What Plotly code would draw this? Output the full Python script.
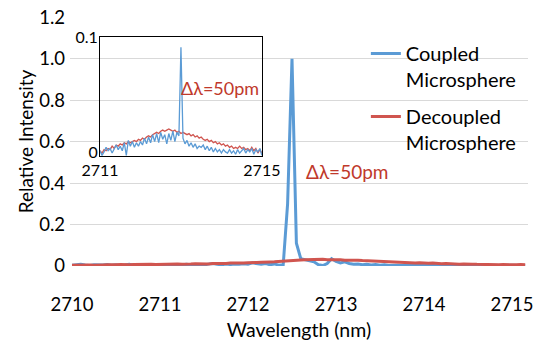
import numpy as np
import plotly.graph_objects as go

# ---------------- data ----------------
main_wavelength = [round(2710.0 + 0.05 * i, 2) for i in range(104)]
coupled_main = [
    0.004, 0.006, 0.008, 0.005, 0.003, 0.006, 0.004, 0.005, 0.007, 0.004,
    0.006, 0.003, 0.005, 0.008, 0.004, 0.006, 0.005, 0.003, 0.006, 0.004,
    0.005, 0.007, 0.004, 0.006, 0.003, 0.005, 0.008, 0.006, 0.004, 0.007,
    0.005, 0.009, 0.012, 0.008, 0.006, 0.009, 0.007, 0.010, 0.008, 0.011,
    0.009, 0.015, 0.010, 0.008, 0.012, 0.006, 0.010, 0.004, 0.006, 0.30,
    1.0, 0.11, 0.035, 0.030, 0.028, 0.020, 0.006, 0.002, 0.012, 0.035,
    0.022, 0.015, 0.020, 0.012, 0.008, 0.010, 0.006, 0.008, 0.005, 0.007,
    0.004, 0.006, 0.003, 0.005, 0.004, 0.003, 0.006, 0.004, 0.003, 0.005,
    0.003, 0.004, 0.002, 0.005, 0.003, 0.002, 0.004, 0.003, 0.005, 0.002,
    0.004, 0.003, 0.006, 0.004, 0.002, 0.004, 0.003, 0.005, 0.003, 0.004,
    0.003, 0.005, 0.004, 0.003,
]
decoupled_main = [
    0.004, 0.005, 0.004, 0.006, 0.005, 0.004, 0.006, 0.005, 0.006, 0.005,
    0.006, 0.007, 0.005, 0.006, 0.007, 0.008, 0.006, 0.007, 0.008, 0.007,
    0.008, 0.007, 0.009, 0.008, 0.010, 0.009, 0.008, 0.010, 0.011, 0.010,
    0.011, 0.010, 0.012, 0.011, 0.013, 0.012, 0.014, 0.013, 0.015, 0.014,
    0.016, 0.015, 0.017, 0.018, 0.017, 0.019, 0.020, 0.022, 0.024, 0.025,
    0.027, 0.028, 0.029, 0.030, 0.031, 0.030, 0.031, 0.032, 0.030, 0.031,
    0.029, 0.030, 0.028, 0.029, 0.027, 0.028, 0.026, 0.025, 0.024, 0.023,
    0.022, 0.020, 0.021, 0.019, 0.018, 0.017, 0.018, 0.016, 0.015, 0.016,
    0.014, 0.013, 0.014, 0.012, 0.011, 0.012, 0.010, 0.011, 0.009, 0.010,
    0.008, 0.009, 0.008, 0.007, 0.008, 0.006, 0.007, 0.006, 0.007, 0.006,
    0.007, 0.006, 0.007, 0.006,
]

inset_wavelength = [round(2711.0 + 0.05 * i, 2) for i in range(81)]
coupled_inset = [
    0.001, -0.003, 0.000, 0.004, 0.001, 0.003, -0.001, 0.002, 0.006, 0.002,
    0.005, 0.001, 0.008, -0.003, 0.010, 0.005, 0.009, 0.004, 0.008, 0.005,
    0.009, 0.006, 0.012, 0.007, 0.013, 0.008, 0.015, 0.009, 0.016, 0.008,
    0.017, 0.011, 0.015, 0.007, 0.016, 0.010, 0.018, 0.009, 0.017, 0.014,
    0.091, 0.012, 0.007, 0.010, 0.005, 0.008, 0.004, 0.007, 0.003, 0.005,
    0.004, 0.006, 0.002, 0.005, 0.001, 0.004, 0.000, 0.003, 0.000, 0.002,
    -0.001, 0.002, 0.000, -0.001, 0.002, -0.001, 0.001, -0.002, 0.002, -0.001,
    0.001, 0.003, -0.001, 0.002, 0.000, 0.003, -0.002, 0.002, 0.000, 0.003,
    -0.003,
]
decoupled_inset = [
    0.001, -0.001, 0.002, 0.001, 0.003, 0.002, 0.005, 0.003, 0.006, 0.005,
    0.007, 0.006, 0.008, 0.007, 0.009, 0.008, 0.009, 0.010, 0.009, 0.011,
    0.010, 0.012, 0.011, 0.013, 0.014, 0.013, 0.015, 0.016, 0.017, 0.016,
    0.018, 0.019, 0.018, 0.019, 0.020, 0.019, 0.018, 0.019, 0.017, 0.018,
    0.016, 0.017, 0.016, 0.015, 0.016, 0.014, 0.015, 0.013, 0.014, 0.012,
    0.013, 0.011, 0.010, 0.011, 0.009, 0.010, 0.008, 0.009, 0.007, 0.008,
    0.006, 0.007, 0.005, 0.006, 0.004, 0.005, 0.003, 0.004, 0.003, 0.005,
    0.003, 0.004, 0.002, 0.003, 0.001, 0.004, 0.001, 0.003, -0.001, 0.002,
    -0.001,
]

main_xticks = [2710, 2711, 2712, 2713, 2714, 2715]
main_yticks = [0, 0.2, 0.4, 0.6, 0.8, 1.0, 1.2]
main_yticklabels = ["0", "0.2", "0.4", "0.6", "0.8", "1.0", "1.2"]
inset_xticks = [2711, 2715]
inset_yticks = [0, 0.1]
inset_yticklabels = ["0", "0.1"]
series_names = ["Coupled<br>Microsphere", "Decoupled<br>Microsphere"]
linewidth_label = "Δλ=50pm"

BLUE = "#5B9BD5"
RED = "#D0554F"
DARKRED = "#C0392B"
FONT = "Lato"

fig = go.Figure()
fig.add_trace(go.Scatter(x=main_wavelength, y=coupled_main, mode="lines",
                         name=series_names[0], line=dict(color=BLUE, width=3),
                         legendgroup="a"))
fig.add_trace(go.Scatter(x=main_wavelength, y=decoupled_main, mode="lines",
                         name=series_names[1], line=dict(color=RED, width=3),
                         legendgroup="b"))
fig.add_trace(go.Scatter(x=inset_wavelength, y=decoupled_inset, mode="lines",
                         xaxis="x2", yaxis="y2", showlegend=False,
                         line=dict(color=RED, width=1.3)))
fig.add_trace(go.Scatter(x=inset_wavelength, y=coupled_inset, mode="lines",
                         xaxis="x2", yaxis="y2", showlegend=False,
                         line=dict(color=BLUE, width=1.3)))

# page body has an 8px default margin, so the figure is sized to fit the window
fig.update_layout(
    width=537, height=333,
    margin=dict(l=62, r=17, t=9, b=75),
    paper_bgcolor="white", plot_bgcolor="rgba(0,0,0,0)",
    font=dict(family=FONT, size=19, color="black"),
    showlegend=True,
    legend=dict(x=0.646, y=0.932, xanchor="left", yanchor="top",
                bgcolor="rgba(0,0,0,0)", valign="top", tracegroupgap=8,
                font=dict(size=20)),
    xaxis=dict(range=[2709.977, 2715.182], tickvals=main_xticks,
               showgrid=False, zeroline=False, showline=False, automargin=False,
               ticks="", ticklabelstandoff=25, tickfont=dict(size=18.5),
               title=dict(text="Wavelength (nm)", standoff=10, font=dict(size=19.5))),
    yaxis=dict(range=[0, 1.2015], tickvals=main_yticks, ticktext=main_yticklabels,
               showgrid=True, gridcolor="#D9D9D9", gridwidth=1, zeroline=False,
               showline=False, ticks="", ticklabelstandoff=4, automargin=False,
               ticklabeloverflow="allow", tickfont=dict(size=18.5),
               title=dict(text="Relative Intensity", standoff=0, font=dict(size=19))),
    xaxis2=dict(domain=[0.0655, 0.419], anchor="y2", range=[2711, 2715],
                tickvals=inset_xticks, showgrid=False, zeroline=False,
                showline=True, mirror=True, linecolor="black", linewidth=1,
                automargin=False, ticklabeloverflow="allow",
                ticks="", ticklabelstandoff=0, tickfont=dict(size=16)),
    yaxis2=dict(domain=[0.442, 0.920], anchor="x2", range=[-0.0035, 0.1],
                tickvals=inset_yticks, ticktext=inset_yticklabels,
                showgrid=False, zeroline=False, automargin=False,
                ticklabeloverflow="allow",
                showline=True, mirror=True, linecolor="black", linewidth=1,
                ticks="", ticklabelstandoff=-2, tickfont=dict(size=16)),
    annotations=[
        dict(x=2712.636, y=0.4545, xref="x", yref="y", text=linewidth_label,
             showarrow=False, xanchor="left", yanchor="middle",
             font=dict(size=19, color=DARKRED)),
        dict(x=2712.96, y=0.0555, xref="x2", yref="y2", text=linewidth_label,
             showarrow=False, xanchor="left", yanchor="middle",
             font=dict(size=18, color=DARKRED)),
    ],
)

fig.write_html("out.html")
